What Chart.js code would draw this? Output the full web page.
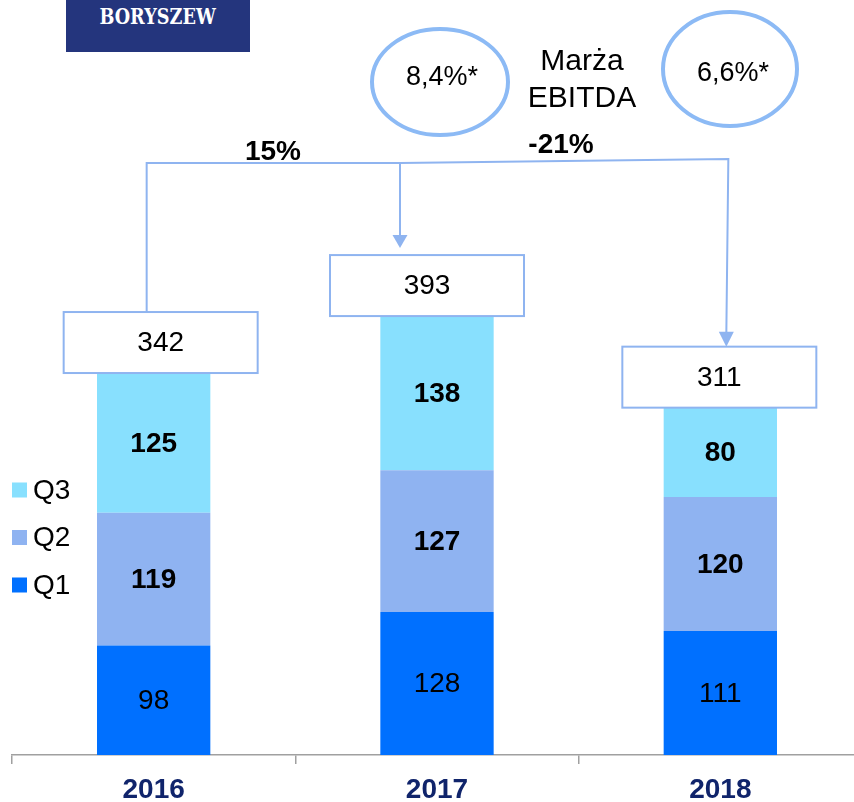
<!DOCTYPE html>
<html lang="pl">
<head>
<meta charset="utf-8">
<title>EBITDA Q1–Q3</title>
<script src="https://cdn.jsdelivr.net/npm/chart.js@4/dist/chart.umd.min.js"></script>
<style>
  html, body { margin: 0; padding: 0; background: #fff; }
  #wrap { position: relative; width: 854px; height: 802px; overflow: hidden; }
  #chart { position: absolute; left: 0; top: 0; }
  .logo {
    position: absolute; left: 66px; top: 0; width: 184px; height: 52px;
    background: #24357d; color: #fff; text-align: center;
  }
  .logo span {
    display: inline-block; margin-top: 1px;
    font: bold 19px "DejaVu Serif", serif; line-height: 24px;
    transform: scale(0.93, 1.22); transform-origin: 50% 0;
  }
</style>
</head>
<body>
<div id="wrap">
  <canvas id="chart" width="862" height="802"></canvas>
  <div class="logo"><span>BORYSZEW</span></div>
</div>
<script>
// ── Data ──────────────────────────────────────────────────
const years   = ['2016', '2017', '2018'];
const q1      = [98, 128, 111];
const q2      = [119, 127, 120];
const q3      = [125, 138, 80];
const totals  = [342, 393, 311];
const margins = ['8,4%*', '6,6%*'];
const changes = ['15%', '-21%'];

// ── Styles ────────────────────────────────────────────────
const FONT     = '"Liberation Sans", Arial, sans-serif';
const navy     = '#10246b';
const lineBlue = '#8fb4f0';
const ringBlue = '#8cbaf5';
const boxW = 194, boxH = 61;
const boxDx  = [7, -10, -1];     // small shifts of the total boxes
const linkDx = [-7, -37, 6];     // where the connectors meet each box

function arrowDown(ctx, x, tipY, w, h) {
  ctx.beginPath();
  ctx.moveTo(x - w / 2, tipY - h);
  ctx.lineTo(x + w / 2, tipY - h);
  ctx.lineTo(x, tipY);
  ctx.closePath();
  ctx.fill();
}

const overlay = {
  id: 'overlay',
  afterDatasetsDraw(chart) {
    const ctx = chart.ctx;
    ctx.save();
    ctx.textAlign = 'center';
    ctx.textBaseline = 'middle';
    ctx.fillStyle = '#000';

    // segment values
    chart.data.datasets.forEach((ds, di) => {
      chart.getDatasetMeta(di).data.forEach((bar, i) => {
        ctx.font = (di === 0 ? '' : 'bold ') + '28px ' + FONT;
        ctx.fillText(ds.data[i], bar.x, (bar.y + bar.base) / 2 + 1);
      });
    });

    // total boxes
    const tops = chart.getDatasetMeta(2).data;
    const boxTop = [];
    tops.forEach((bar, i) => {
      const cx = bar.x + boxDx[i];
      const y0 = bar.y - boxH;
      boxTop.push(y0);
      ctx.fillStyle = '#fff';
      ctx.fillRect(cx - boxW / 2, y0, boxW, boxH);
      ctx.strokeStyle = lineBlue;
      ctx.lineWidth = 2;
      ctx.strokeRect(cx - boxW / 2, y0, boxW, boxH);
      ctx.fillStyle = '#000';
      ctx.font = '28px ' + FONT;
      ctx.fillText(totals[i], cx, y0 + boxH / 2 + 1);
    });

    // connectors
    const lx = tops.map((b, i) => b.x + linkDx[i]);
    ctx.strokeStyle = lineBlue;
    ctx.fillStyle = lineBlue;
    ctx.lineWidth = 2;
    ctx.beginPath();
    ctx.moveTo(lx[0], boxTop[0]);
    ctx.lineTo(lx[0], 163);
    ctx.lineTo(lx[1] + 9, 163);
    ctx.moveTo(lx[1], 163);
    ctx.lineTo(lx[1], boxTop[1] - 19);
    ctx.moveTo(lx[1], 163);
    ctx.lineTo(lx[2] + 2, 159);
    ctx.lineTo(lx[2], boxTop[2] - 14);
    ctx.stroke();
    arrowDown(ctx, lx[1], boxTop[1] - 7, 15, 13);
    arrowDown(ctx, lx[2], boxTop[2], 15, 15);

    ctx.fillStyle = '#000';
    ctx.font = 'bold 28px ' + FONT;
    ctx.fillText(changes[0], 273, 152);
    ctx.fillText(changes[1], 561, 145);

    // EBITDA margin rings
    ctx.strokeStyle = ringBlue;
    ctx.lineWidth = 4;
    ctx.beginPath();
    ctx.ellipse(440, 82, 68, 53, 0, 0, Math.PI * 2);
    ctx.stroke();
    ctx.beginPath();
    ctx.ellipse(730, 69, 67, 57, 0, 0, Math.PI * 2);
    ctx.stroke();
    ctx.font = '27px ' + FONT;
    ctx.fillText(margins[0], 442, 78);
    ctx.fillText(margins[1], 733, 74);
    ctx.font = '30px ' + FONT;
    ctx.fillText('Marża', 582, 62);
    ctx.fillText('EBITDA', 582, 99);

    // legend
    const items = [2, 1, 0];
    ctx.textAlign = 'left';
    ctx.font = '28px ' + FONT;
    items.forEach((di, k) => {
      const y = 490 + k * 47.5;
      ctx.fillStyle = chart.data.datasets[di].backgroundColor;
      ctx.fillRect(12, y - 7.5, 15, 15);
      ctx.fillStyle = '#000';
      ctx.fillText(chart.data.datasets[di].label, 33, y + 1);
    });
    ctx.restore();
  }
};

new Chart(document.getElementById('chart'), {
  type: 'bar',
  data: {
    labels: years,
    datasets: [
      { label: 'Q1', data: q1, backgroundColor: '#0070ff' },
      { label: 'Q2', data: q2, backgroundColor: '#8fb3f1' },
      { label: 'Q3', data: q3, backgroundColor: '#88e0fe' },
    ]
  },
  options: {
    responsive: false,
    animation: false,
    layout: { padding: { left: 12, right: 0, top: 0, bottom: 0 } },
    datasets: { bar: { categoryPercentage: 1, barPercentage: 0.4, borderWidth: 0 } },
    plugins: { legend: { display: false }, tooltip: { enabled: false } },
    scales: {
      x: {
        stacked: true,
        afterFit: s => { s.height = 47; },
        grid: { drawOnChartArea: false, drawTicks: true, tickLength: 9, color: '#a0a0a0', lineWidth: 1.5 },
        border: { display: true, color: '#a0a0a0', width: 1.5 },
        ticks: { color: navy, padding: 9, font: { family: FONT, size: 28, weight: 'bold' } }
      },
      y: { stacked: true, display: false, min: 0, max: 676 }
    }
  },
  plugins: [overlay]
});
</script>
</body>
</html>
